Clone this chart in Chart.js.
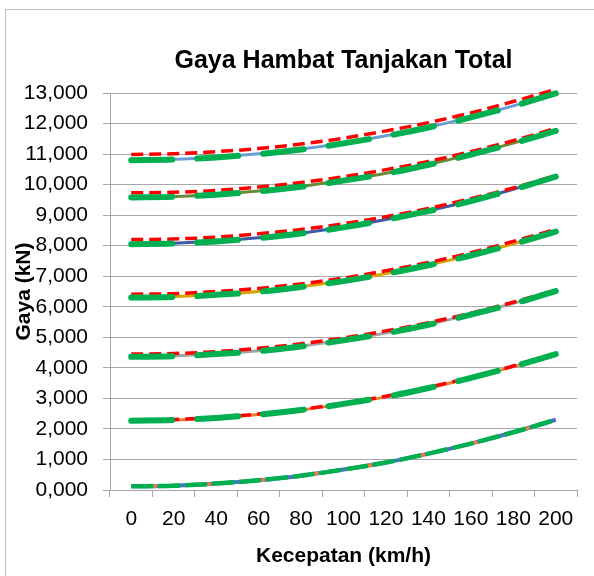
<!DOCTYPE html>
<html>
<head>
<meta charset="utf-8">
<script src="https://cdn.jsdelivr.net/npm/chart.js@4.4.1/dist/chart.umd.min.js"></script>
<style>
  html, body { margin: 0; padding: 0; background: #fff; }
</style>
</head>
<body>
<canvas id="chart" width="594" height="576"></canvas>
<script>
const speeds = ['0', '20', '40', '60', '80', '100', '120', '140', '160', '180', '200'];

// thick green dashed series (one per grade)
const green1 = [0.12, 0.14, 0.21, 0.32, 0.47, 0.67, 0.90, 1.19, 1.52, 1.89, 2.30];
const green2 = [2.27, 2.29, 2.36, 2.47, 2.62, 2.82, 3.05, 3.34, 3.67, 4.04, 4.45];
const green3 = [4.36, 4.38, 4.45, 4.55, 4.70, 4.90, 5.13, 5.41, 5.74, 6.10, 6.51];
const green4 = [6.30, 6.32, 6.39, 6.49, 6.65, 6.84, 7.08, 7.36, 7.68, 8.05, 8.46];
const green5 = [8.05, 8.07, 8.14, 8.25, 8.40, 8.60, 8.85, 9.13, 9.46, 9.84, 10.26];
const green6 = [9.58, 9.60, 9.67, 9.78, 9.93, 10.13, 10.36, 10.65, 10.98, 11.35, 11.76];
const green7 = [10.80, 10.82, 10.89, 11.00, 11.15, 11.35, 11.59, 11.87, 12.20, 12.57, 12.99];

// red dashed series
const red1 = [0.12, 0.14, 0.21, 0.32, 0.47, 0.67, 0.90, 1.19, 1.52, 1.89, 2.30];
const red2 = [2.29, 2.31, 2.38, 2.49, 2.64, 2.84, 3.07, 3.36, 3.69, 4.06, 4.46];
const red3 = [4.45, 4.47, 4.53, 4.64, 4.79, 4.98, 5.21, 5.48, 5.79, 6.15, 6.55];
const red4 = [6.41, 6.43, 6.50, 6.60, 6.75, 6.94, 7.18, 7.45, 7.77, 8.14, 8.54];
const red5 = [8.20, 8.22, 8.28, 8.39, 8.53, 8.72, 8.95, 9.22, 9.54, 9.89, 10.30];
const red6 = [9.73, 9.75, 9.81, 9.92, 10.07, 10.26, 10.49, 10.76, 11.08, 11.44, 11.84];
const red7 = [10.99, 11.01, 11.08, 11.18, 11.33, 11.52, 11.76, 12.03, 12.35, 12.72, 13.12];

// solid series under the dashes
const solid1 = [0.12, 0.14, 0.21, 0.32, 0.47, 0.67, 0.90, 1.19, 1.52, 1.89, 2.30];
const solid2 = [2.27, 2.29, 2.36, 2.47, 2.62, 2.82, 3.05, 3.34, 3.67, 4.04, 4.45];
const solid3 = [4.37, 4.39, 4.46, 4.56, 4.71, 4.91, 5.14, 5.42, 5.75, 6.11, 6.52];
const solid4 = [6.31, 6.33, 6.40, 6.50, 6.66, 6.85, 7.09, 7.37, 7.69, 8.06, 8.47];
const solid5 = [8.06, 8.08, 8.15, 8.26, 8.41, 8.61, 8.86, 9.14, 9.47, 9.85, 10.27];
const solid6 = [9.59, 9.61, 9.68, 9.79, 9.94, 10.14, 10.37, 10.66, 10.99, 11.36, 11.77];
const solid7 = [10.81, 10.83, 10.90, 11.01, 11.16, 11.36, 11.60, 11.88, 12.21, 12.58, 13.00];

const greens = [green1, green2, green3, green4, green5, green6, green7];
const reds = [red1, red2, red3, red4, red5, red6, red7];
const solids = [solid1, solid2, solid3, solid4, solid5, solid6, solid7];
const solidColors = ['#4472C4', '#ED7D31', '#A5A5A5', '#D9A300', '#3A5CA6', '#6B8A38', '#6A9FD6'];

const datasets = [];
solids.forEach((vals, i) => {
  const low = i === 0;
  datasets.push({
    data: greens[i], borderColor: '#00B050', borderWidth: low ? 4.5 : 6,
    borderDash: low ? [22, 5] : [41, 25], borderCapStyle: low ? 'butt' : 'round', order: 1, clip: 12
  });
  datasets.push({
    data: reds[i], borderColor: low ? '#ED7D31' : '#FF0000', borderWidth: low ? 3.5 : 3.5,
    borderDash: low ? [8, 10] : [12, 6], order: 2, clip: 12
  });
  datasets.push({
    data: vals, borderColor: solidColors[i], borderWidth: low ? 4 : 3, order: 3, clip: 12
  });
});

const frame = {
  id: 'frame',
  beforeDraw(chart) {
    const ctx = chart.ctx;
    ctx.save();
    ctx.strokeStyle = '#BFBFBF';
    ctx.lineWidth = 1;
    ctx.strokeRect(5.5, 9.5, 700, 700);
    ctx.restore();
  }
};

const font = 'Liberation Sans, Arial, sans-serif';
const gridColor = '#A6A6A6';

new Chart(document.getElementById('chart'), {
  type: 'line',
  data: { labels: speeds, datasets },
  plugins: [frame],
  options: {
    responsive: false,
    animation: false,
    events: [],
    layout: { padding: { left: 0, right: 17, top: 0, bottom: 0 } },
    elements: {
      point: { radius: 0 },
      line: { cubicInterpolationMode: 'monotone', fill: false }
    },
    plugins: {
      legend: { display: false },
      tooltip: { enabled: false },
      title: {
        display: true,
        fullSize: false,
        text: 'Gaya Hambat Tanjakan Total',
        color: '#000',
        font: { family: font, size: 25, weight: 'bold' },
        padding: { top: 46, bottom: 17 }
      }
    },
    scales: {
      x: {
        type: 'category',
        offset: true,
        afterFit(scale) { scale.height = 86; },
        grid: { display: true, offset: true, drawOnChartArea: false, drawTicks: true, tickLength: 7, color: gridColor },
        border: { display: true, color: gridColor },
        ticks: { color: '#000', font: { family: font, size: 21 }, padding: 10, maxRotation: 0, autoSkip: false },
        title: {
          display: true, text: 'Kecepatan (km/h)', color: '#000',
          font: { family: font, size: 21, weight: 'bold' }, padding: { top: 0, bottom: 7 }
        }
      },
      y: {
        min: 0,
        max: 13,
        afterFit(scale) { scale.width = 110; },
        grid: { color: gridColor, tickLength: 7, drawTicks: true },
        border: { display: true, color: gridColor },
        ticks: {
          stepSize: 1, color: '#000', font: { family: font, size: 21 }, padding: 15,
          callback: v => v.toFixed(3).replace('.', ',')
        },
        title: {
          display: true, text: 'Gaya (kN)', color: '#000',
          font: { family: font, size: 21, weight: 'bold' }, padding: { top: 12, bottom: 0 }
        }
      }
    }
  }
});
</script>
</body>
</html>
